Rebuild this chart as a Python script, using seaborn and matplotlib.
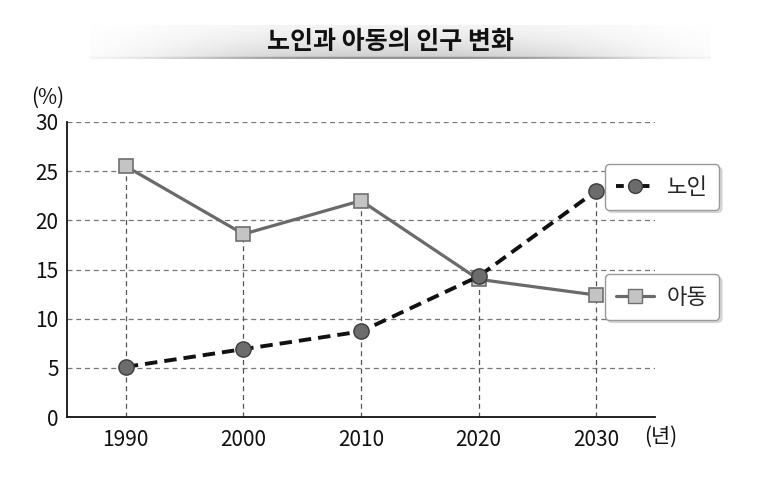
import numpy as np
import pandas as pd
import matplotlib
matplotlib.use("Agg")
import matplotlib.pyplot as plt
import seaborn as sns
from matplotlib.lines import Line2D

years = [1990, 2000, 2010, 2020, 2030]
elderly = [5.1, 6.9, 8.7, 14.3, 23.0]
children = [25.5, 18.6, 22.0, 14.0, 12.4]
yticks = [0, 5, 10, 15, 20, 25, 30]
title = "노인과 아동의 인구 변화"
label_old = "노인"
label_child = "아동"

sns.set_style("white")
plt.rcParams['font.family'] = ['Noto Sans CJK KR', 'DejaVu Sans']

fig = plt.figure(figsize=(7.7, 4.82), dpi=100)

# title band with gradient
bax = fig.add_axes([90/770, 1-59/482, 620/770, 34/482])
W, H = 600, 60
xx = np.linspace(-1, 1, W)
yy = np.linspace(0, 1, H)[:, None]
hprof = np.exp(-(np.abs(xx) / 0.75) ** 3)[None, :]
val = 1 - hprof * (0.05 + 0.15 * yy ** 1.5)
val[-4:, :] = 1 - hprof[0] * 0.42
bax.imshow(val, cmap='gray', vmin=0, vmax=1, aspect='auto', interpolation='bilinear')
bax.axis('off')
fig.text(390/770, 1-42/482, title, ha='center', va='center', fontsize=18,
         fontweight='bold', color='#111111')

ax = fig.add_axes([67/770, 1-417/482, 588/770, 295/482])
df = pd.DataFrame({'year': years, 'old': elderly, 'child': children})

ax.vlines(df['year'], 0, np.maximum(df['old'], df['child']), colors='#555555',
          linestyles=(0, (4, 3)), lw=0.9, zorder=1)

sns.lineplot(data=df, x='year', y='child', ax=ax, color='#6a6a6a', lw=2.3,
             marker='s', markersize=10.5, markerfacecolor='#c4c4c4',
             markeredgecolor='#6f6f6f', markeredgewidth=1.2, zorder=3)
sns.lineplot(data=df, x='year', y='old', ax=ax, color='#111111', lw=2.8,
             marker='o', markersize=11, markerfacecolor='#6c6c6c',
             markeredgecolor='#3c3c3c', markeredgewidth=1.0, zorder=4)
ax.lines[-1].set_dashes([3.2, 1.8])

ax.set_xlim(1985, 2035)
ax.set_ylim(0, 30)
ax.set_yticks(yticks)
ax.set_xticks(years)
ax.yaxis.grid(True, linestyle=(0, (4, 3)), color='#777777', lw=0.9)
ax.set_axisbelow(True)
for s in ['top', 'right']:
    ax.spines[s].set_visible(False)
ax.spines['left'].set_color('#111111')
ax.spines['bottom'].set_color('#111111')
ax.spines['left'].set_linewidth(1.3)
ax.spines['bottom'].set_linewidth(1.3)
ax.tick_params(axis='both', length=0, labelsize=15, colors='#111111')
ax.tick_params(axis='x', pad=9)
ax.tick_params(axis='y', pad=6)
ax.set_xlabel('')
ax.set_ylabel('')

fig.text(48/770, 1-98/482, "(%)", ha='center', va='center', fontsize=15, color='#111111')
fig.text(661/770, 1-437/482, "(년)", ha='center', va='center', fontsize=15, color='#111111')

h_old = Line2D([], [], color='#111111', lw=2.8, dashes=[2.0, 1.3], marker='o',
               markersize=10, markerfacecolor='#6c6c6c', markeredgecolor='#3c3c3c')
h_child = Line2D([], [], color='#6a6a6a', lw=2.3, marker='s', markersize=10,
                 markerfacecolor='#c4c4c4', markeredgecolor='#6f6f6f')

common = dict(fontsize=16, frameon=True, fancybox=True, edgecolor='#999999',
              handlelength=1.7, handletextpad=0.6, borderpad=0.5,
              borderaxespad=0, bbox_transform=fig.transFigure, loc='center',
              shadow={'color': '#bbbbbb', 'alpha': 0.5})
leg1 = ax.legend([h_old], [label_old], bbox_to_anchor=(662/770, 1-187/482), **common)
ax.add_artist(leg1)
leg2 = ax.legend([h_child], [label_child], bbox_to_anchor=(662/770, 1-297/482), **common)

fig.savefig('out.png', dpi=100)
